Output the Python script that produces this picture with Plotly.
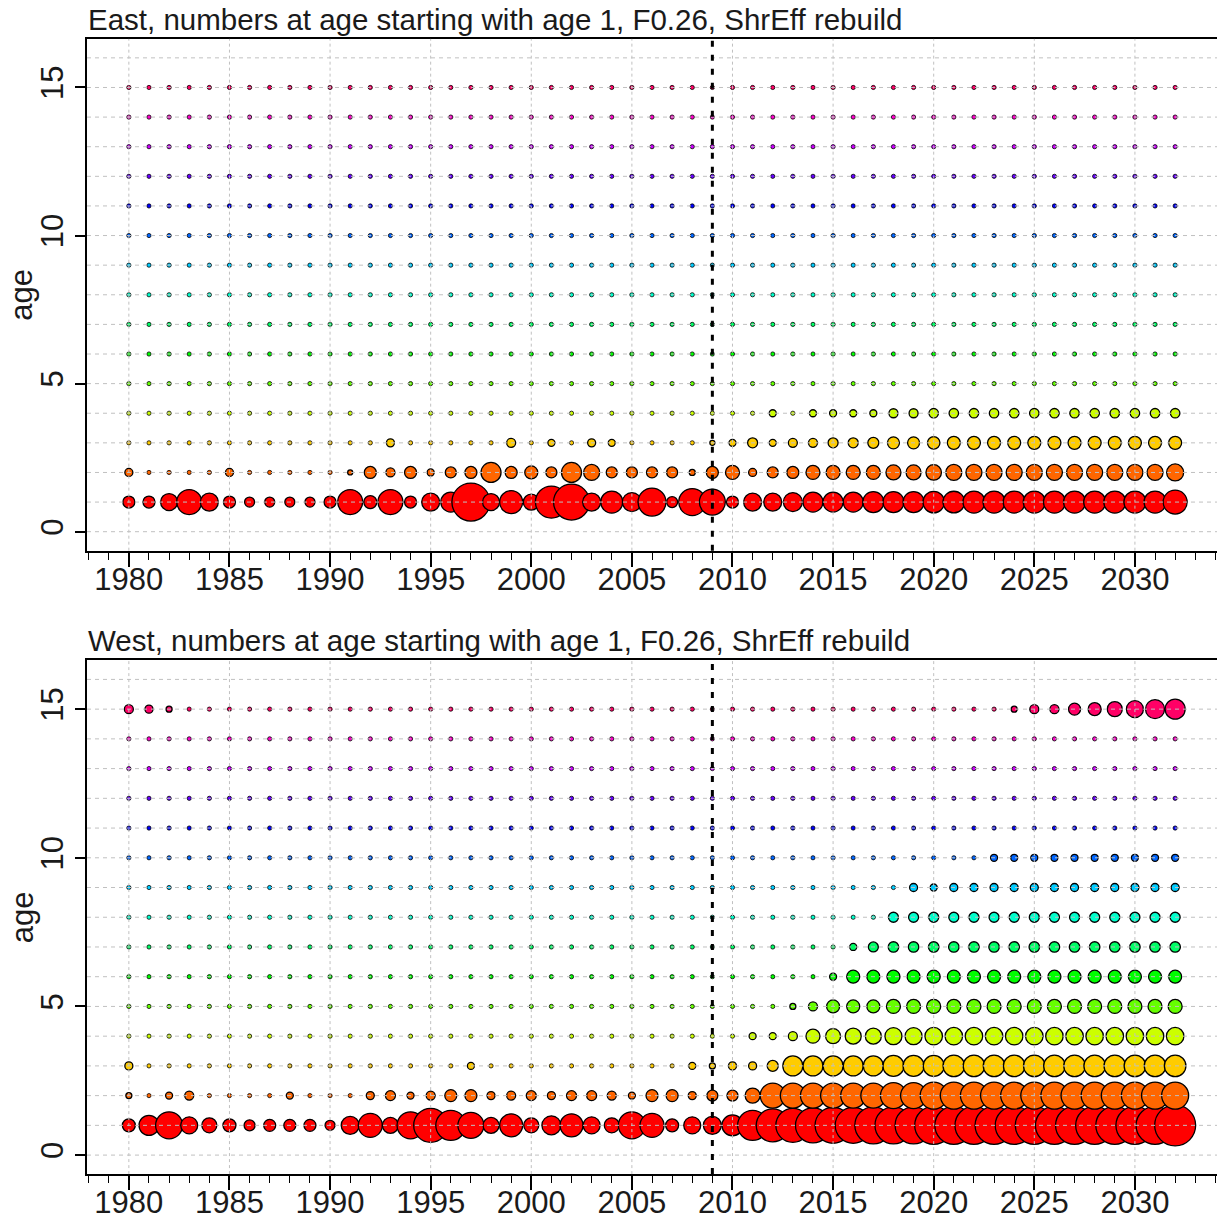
import plotly.graph_objects as go

# ---------------- data ----------------
years = list(range(1980, 2033))
ages = list(range(1, 16))
age_colors = ["#FF0000", "#FF6600", "#FFCC00", "#CCFF00", "#66FF00", "#00FF00", "#00FF66",
              "#00FFCC", "#00CCFF", "#0066FF", "#0000FF", "#6600FF", "#CC00FF", "#FF00CC", "#FF0066"]
x_tick_years = [1980, 1985, 1990, 1995, 2000, 2005, 2010, 2015, 2020, 2025, 2030]
y_tick_ages = [0, 5, 10, 15]
split_year = 2009

east_title = "East, numbers at age starting with age 1, F0.26, ShrEff rebuild"
west_title = "West, numbers at age starting with age 1, F0.26, ShrEff rebuild"

# numbers at age (relative units), one list per age, years 1980..2032
east_a1 = [144,144,289,625,324,144,100,100,100,100, 144,625,169,625,144,324,400,1444,289,529,
           256,1024,1296,324,484,361,784,121,729,676, 144,324,324,361,400,400,400,441,441,441,
           462,470,484,484,484,484,484,484,484,484, 484,484,576]
east_a2 = [64,9,9,9,9,64,9,9,9,9, 4,25,144,81,144,49,121,144,400,144,
           169,121,400,256,121,121,121,121,36,144, 196,64,121,144,196,196,196,196,225,225,
           240,256,256,256,256,256,256,256,256,256, 256,256,289]
east_a3 = [9,9,6,4,6,4,6,4,6,4, 4,9,4,64,4,4,4,9,9,81,
           9,49,9,64,49,9,9,9,9,25, 49,100,49,81,81,100,100,121,144,144,
           156,169,169,169,169,169,169,169,169,169, 169,169,169]
east_a4 = [6,4,9,6,9,4,6,9,4,6, 9,6,4,9,6,9,4,6,9,4,
           6,9,4,6,9,6,4,9,6,4, 6,4,49,9,49,49,49,49,81,81,
           90,90,90,90,90,90,90,90,90,90, 90,90,90]
east_a5 = [4,6,9,6,9,6,4,9,6,4, 6,9,4,9,6,4,9,6,4,9,
           6,9,4,6,9,4,6,9,4,6, 9,6,9,9,9,12,12,16,12,16,
           12,16,12,16,12,16,12,16,12,16, 16,12,16]
east_a6 = [4,9,9,6,9,6,4,9,6,4, 9,6,4,9,6,9,6,4,9,6, 4,9,6,9,4,6,9,6,4,9,
           6,4,9,6,9,4,6,9,6,4, 9,6,4,9,6,9,4,6,9,6, 4,9,6]
east_a7 = [6,9,6,9,4,9,6,4,9,6, 4,9,6,4,9,6,9,4,6,9, 6,4,9,6,9,4,6,9,6,4,
           9,6,4,9,6,4,9,6,9,4, 6,9,6,4,9,6,4,9,6,9, 4,6,9]
east_a8 = [6,9,9,6,9,9,4,9,6,4, 9,4,6,9,4,9,6,4,9,6, 4,9,6,9,4,6,9,4,6,9,
           6,4,9,6,4,9,6,9,4,6, 9,4,6,9,6,4,9,6,4,9, 6,9,4]
east_a9 = [6,9,9,6,9,9,4,9,6,4, 9,6,4,9,6,9,6,4,9,6, 4,9,6,9,4,6,9,6,4,9,
           9,6,4,9,6,4,9,6,9,4, 6,9,6,4,9,6,4,9,6,9, 4,6,9]
east_a10 = [6,9,9,6,9,9,4,9,6,4, 9,6,4,9,6,9,6,4,9,6, 4,9,6,9,4,6,9,6,4,9,
            6,9,4,6,9,6,4,9,6,4, 9,6,4,9,6,9,4,6,9,6, 4,9,6]
east_a11 = [6,9,9,6,9,6,4,9,6,4, 9,6,4,9,6,9,6,4,9,6, 4,9,6,9,4,6,9,6,4,9,
            4,6,9,6,4,9,6,4,9,6, 9,4,6,9,6,4,9,6,9,4, 6,9,4]
east_a12 = [4,9,9,6,9,6,4,9,6,4, 9,6,4,9,6,9,6,4,9,6, 4,9,6,9,4,6,9,6,4,9,
            9,4,6,9,4,6,9,4,6,9, 6,9,4,6,9,4,6,9,4,6, 9,4,6]
east_a13 = [4,9,9,6,9,6,4,9,6,4, 9,6,4,9,6,9,6,4,9,6, 4,9,6,9,4,6,9,6,4,9,
            6,4,9,6,9,4,6,9,6,4, 9,6,4,9,6,9,4,6,9,6, 4,9,6]
east_a14 = [4,9,9,6,9,6,4,9,6,4, 9,6,4,9,6,9,6,4,9,6, 4,9,6,9,4,6,9,6,4,9,
            6,9,4,6,9,6,4,9,6,4, 9,6,4,9,6,9,4,6,9,6, 4,9,6]
east_a15 = [6,9,9,6,9,6,4,9,6,4, 9,6,4,9,6,9,6,4,9,6, 4,9,6,9,4,6,9,6,4,9,
            4,6,9,6,4,9,6,4,9,6, 9,4,6,9,6,4,9,6,9,4, 6,9,4]

west_a1 = [169,400,729,289,225,169,121,144,144,144, 100,324,576,256,729,1156,900,676,256,529,
           225,361,529,289,225,729,576,169,289,324, 441,900,1089,1156,1225,1296,1296,1369,1369,1369,
           1444,1444,1444,1444,1444,1444,1444,1444,1444,1444, 1444,1444,1681]
west_a2 = [36,9,49,81,9,4,9,9,49,9, 4,9,64,100,49,81,144,144,64,81,
           100,64,100,100,81,49,144,144,64,121, 121,225,625,625,625,625,625,625,676,676,
           729,729,729,729,729,729,729,729,729,729, 729,729,729]
west_a3 = [64,6,9,6,9,4,6,9,6,4, 6,9,4,6,9,4,4,49,9,9,
           4,9,4,4,9,4,4,9,49,36, 64,64,121,400,400,400,400,400,441,441,
           441,462,462,462,462,462,462,462,462,462, 462,462,462]
west_a4 = [6,4,9,6,9,4,6,9,4,6, 9,6,4,9,6,9,4,6,9,4,
           6,9,4,6,9,6,4,9,6,4, 9,49,49,81,196,225,256,256,289,289,
           306,306,306,306,306,306,306,306,306,306, 306,306,306]
west_a5 = [4,6,9,6,9,6,4,9,6,4, 6,9,4,9,6,4,9,6,4,9,
           6,9,4,6,9,4,6,9,4,6, 9,9,9,36,81,169,169,169,196,196,
           196,196,196,196,196,196,196,196,196,196, 196,196,196]
west_a6 = [4,9,9,6,9,6,4,9,6,4, 9,6,4,9,6,9,6,4,9,6, 4,9,6,9,4,6,9,6,4,9,
           6,4,9,9,9,49,169,169,169,169, 169,169,169,169,169,169,169,169,169,169, 169,169,169]
west_a7 = [6,9,6,9,4,9,6,4,9,6, 4,9,6,4,9,6,9,4,6,9, 6,4,9,6,9,4,6,9,6,4,
           9,6,4,9,6,9,49,100,110,110, 110,110,110,110,110,110,110,110,110,110, 110,110,110]
west_a8 = [6,9,9,6,9,9,4,9,6,4, 9,4,6,9,4,9,6,4,9,6, 4,9,6,9,4,6,9,4,6,9,
           6,4,9,6,4,9,6,9,100,100, 100,100,100,100,100,100,100,100,100,100, 100,100,100]
west_a9 = [6,9,9,6,9,9,4,9,6,4, 9,6,4,9,6,9,6,4,9,6, 4,9,6,9,4,6,9,6,4,9,
           9,6,4,9,6,4,9,6,9,64, 49,64,64,64,64,64,64,64,64,64, 64,64,64]
west_a10 = [6,9,9,6,9,9,4,9,6,4, 9,6,4,9,6,9,6,4,9,6, 4,9,6,9,4,6,9,6,4,9,
            6,9,4,6,9,6,4,9,6,4, 9,9,9,49,49,49,49,49,49,49, 49,49,49]
west_a11 = [6,9,9,6,9,6,4,9,6,4, 9,6,4,9,6,9,6,4,9,6, 4,9,6,9,4,6,9,6,4,9,
            4,6,9,6,4,9,6,4,9,6, 6,9,9,9,9,12,9,9,12,9, 9,12,12]
west_a12 = [4,9,9,6,9,6,4,9,6,4, 9,6,4,9,6,9,6,4,9,6, 4,9,6,9,4,6,9,6,4,9,
            9,4,6,9,4,6,9,4,6,9, 6,9,9,9,9,9,9,9,9,9, 9,9,9]
west_a13 = [4,9,9,6,9,6,4,9,6,4, 9,6,4,9,6,9,6,4,9,6, 4,9,6,9,4,6,9,6,4,9,
            6,4,9,6,9,4,6,9,6,4, 9,6,4,9,6,9,4,9,9,9, 9,9,9]
west_a14 = [4,9,9,6,9,6,4,9,6,4, 9,6,4,9,6,9,6,4,9,6, 4,9,6,9,4,6,9,6,4,9,
            6,9,4,6,9,6,4,9,6,4, 9,6,4,9,6,9,4,6,9,6, 4,9,6]
west_a15 = [81,64,36,9,9,6,4,9,6,4, 9,6,4,9,6,9,6,4,9,6, 4,9,6,9,4,6,9,6,4,9,
            4,6,9,6,4,9,6,4,9,6, 6,9,4,9,36,81,81,144,169,225, 289,361,400]

east_rows = [east_a1, east_a2, east_a3, east_a4, east_a5, east_a6, east_a7, east_a8,
             east_a9, east_a10, east_a11, east_a12, east_a13, east_a14, east_a15]
west_rows = [west_a1, west_a2, west_a3, west_a4, west_a5, west_a6, west_a7, west_a8,
             west_a9, west_a10, west_a11, west_a12, west_a13, west_a14, west_a15]

# ---------------- layout constants ----------------
W, H = 1217, 1220
FONT = "Liberation Sans, Arial, sans-serif"
TXT = "#1a1a1a"
GRID = "#C0C0C0"
x_dom = [87 / W, 1.0]
top_dom = [1 - 552 / H, 1 - 39 / H]
bot_dom = [1 - 1177 / H, 1 - 662 / H]
x_range = [1977.92, 2034.08]
y_range = [-0.64, 16.64]

fig = go.Figure()

for rows, xa, ya in [(east_rows, "x", "y"), (west_rows, "x2", "y2")]:
    for age, vals, col in zip(ages, rows, age_colors):
        # thinner outline on the tiny dots so their fill colour stays visible
        lw = [1.3 if v >= 25 else 0.8 for v in vals]
        fig.add_trace(go.Scatter(
            x=years, y=[age] * len(years), mode="markers", xaxis=xa, yaxis=ya,
            showlegend=False, hoverinfo="x+y+text", text=[str(v) for v in vals],
            marker=dict(size=vals, sizemode="area", sizeref=2, sizemin=2.1, opacity=1,
                        color=col, line=dict(color="black", width=lw)),
        ))

axis_common = dict(showline=True, linecolor="black", linewidth=2, showgrid=False,
                   zeroline=False, ticks="outside", tickcolor="black",
                   tickfont=dict(family=FONT, size=31, color=TXT))

for xa, ya, dom, anchor_y, anchor_x in [("xaxis", "yaxis", top_dom, "y", "x"),
                                        ("xaxis2", "yaxis2", bot_dom, "y2", "x2")]:
    fig.update_layout(**{
        xa: dict(axis_common, domain=x_dom, range=x_range, anchor=anchor_y, mirror=True,
                 tickmode="array", tickvals=x_tick_years, ticklen=14, tickwidth=1.5,
                 ticklabelstandoff=-14,
                 minor=dict(dtick=1, tick0=1980, ticks="outside", ticklen=7,
                            tickcolor="black", tickwidth=1.2, showgrid=False)),
        ya: dict(axis_common, domain=dom, range=y_range, anchor=anchor_x, mirror=False,
                 tickmode="array", tickvals=y_tick_ages, ticklen=10, tickwidth=1.5,
                 tickangle=-90),
    })

shapes = []
for xr, yr in [("x", "y"), ("x2", "y2")]:
    for k in range(0, 17):
        shapes.append(dict(type="line", xref=f"{xr} domain", yref=yr, x0=0, x1=1, y0=k, y1=k,
                           line=dict(color=GRID, width=1, dash="4px,4px"), layer="above"))
    for yv in x_tick_years:
        shapes.append(dict(type="line", xref=xr, yref=f"{yr} domain", x0=yv, x1=yv, y0=0, y1=1,
                           line=dict(color=GRID, width=1, dash="3px,3px"), layer="above"))
    shapes.append(dict(type="line", xref=xr, yref=f"{yr} domain", x0=split_year, x1=split_year,
                       y0=0, y1=1, line=dict(color="black", width=3, dash="6px,8px"),
                       layer="above"))

annotations = []
for title, dom in [(east_title, top_dom), (west_title, bot_dom)]:
    annotations.append(dict(text=title, xref="paper", yref="paper", x=x_dom[0] - 0.001,
                            y=dom[1] + 0.001, xanchor="left", yanchor="bottom", showarrow=False,
                            font=dict(family=FONT, size=29.5, color=TXT)))
    annotations.append(dict(text="age", xref="paper", yref="paper", x=22 / W,
                            y=(dom[0] + dom[1]) / 2, xanchor="center", yanchor="middle",
                            textangle=-90, showarrow=False,
                            font=dict(family=FONT, size=31, color=TXT)))

fig.update_layout(width=W, height=H, margin=dict(l=0, r=0, t=0, b=0),
                  paper_bgcolor="white", plot_bgcolor="white",
                  shapes=shapes, annotations=annotations, showlegend=False)

fig.write_html("out.html", config={"displayModeBar": False},
               post_script="document.body.style.margin='0px';")
